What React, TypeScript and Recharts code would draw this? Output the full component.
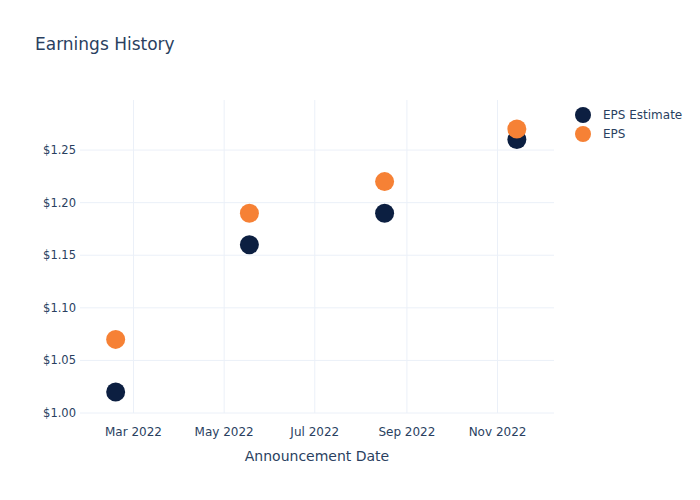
import React from 'react';
import { ScatterChart, Scatter, XAxis, YAxis, CartesianGrid, Label } from 'recharts';

const dates = ['2022-02-17', '2022-05-18', '2022-08-17', '2022-11-14'];
const epsEstimate = [1.02, 1.16, 1.19, 1.26];
const epsActual = [1.07, 1.19, 1.22, 1.27];

const xTickDates = ['2022-03-01', '2022-05-01', '2022-07-01', '2022-09-01', '2022-11-01'];
const xTickLabels = ['Mar 2022', 'May 2022', 'Jul 2022', 'Sep 2022', 'Nov 2022'];
const yTicks = [1.0, 1.05, 1.1, 1.15, 1.2, 1.25];

const NAVY = '#0c1f41';
const ORANGE = '#f68135';
const TEXT = '#2a3f5f';
const FONT = '"DejaVu Sans", Verdana, sans-serif';

const ts = (d: string) => Date.parse(d + 'T00:00:00Z');

const estimateData = dates.map((d, i) => ({ x: ts(d), y: epsEstimate[i] }));
const epsData = dates.map((d, i) => ({ x: ts(d), y: epsActual[i] }));
const xTicks = xTickDates.map(ts);

const legendItems = [
  { name: 'EPS Estimate', color: NAVY },
  { name: 'EPS', color: ORANGE },
];

const dot = (color: string) => (props: any) => (
  <circle cx={props.cx} cy={props.cy} r={9.5} fill={color} />
);

export default function App() {
  return (
    <div style={{ position: 'absolute', left: 0, top: 0, width: 700, height: 500, background: '#fff', fontFamily: FONT }}>
      <div style={{ position: 'absolute', left: 35, top: 34, fontSize: 17, color: TEXT }}>Earnings History</div>
      <div style={{ position: 'absolute', left: 574, top: 105, fontSize: 12, color: TEXT }}>
        {legendItems.map((it) => (
          <div key={it.name} style={{ display: 'flex', alignItems: 'center', height: 19 }}>
            <svg width={18} height={18} style={{ marginRight: 11 }}>
              <circle cx={9} cy={9} r={8} fill={it.color} />
            </svg>
            <span>{it.name}</span>
          </div>
        ))}
      </div>
      <ScatterChart width={700} height={500} margin={{ top: 100, right: 146, bottom: 27, left: 10 }} style={{ fontFamily: FONT }}>
        <CartesianGrid stroke="#ebf0f8" strokeWidth={1} horizontalValues={yTicks} verticalValues={xTicks} />
        <XAxis
          type="number"
          dataKey="x"
          domain={[ts('2022-01-24'), ts('2022-12-09')]}
          ticks={xTicks}
          tickFormatter={(v: number) => xTickLabels[xTicks.indexOf(v)] ?? ''}
          axisLine={false}
          tickLine={false}
          tickSize={12}
          height={60}
          tick={{ fill: TEXT, fontSize: 12 }}
          allowDataOverflow
        >
          <Label value="Announcement Date" position="insideBottom" offset={0} dy={-12} fill={TEXT} fontSize={14} />
        </XAxis>
        <YAxis
          type="number"
          dataKey="y"
          domain={[1.0, 1.2976]}
          ticks={yTicks}
          tickFormatter={(v: number) => '$' + v.toFixed(2)}
          axisLine={false}
          tickLine={false}
          tickSize={2}
          width={70}
          tick={{ fill: TEXT, fontSize: 11.5 }}
          allowDataOverflow
        />
        <Scatter name="EPS Estimate" data={estimateData} fill={NAVY} shape={dot(NAVY)} isAnimationActive={false} />
        <Scatter name="EPS" data={epsData} fill={ORANGE} shape={dot(ORANGE)} isAnimationActive={false} />
      </ScatterChart>
    </div>
  );
}
